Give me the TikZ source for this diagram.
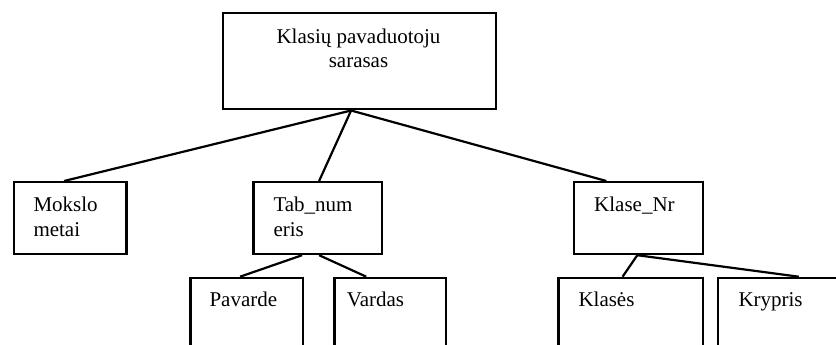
\documentclass[tikz,border=0pt]{standalone}
\usepackage{fontspec}
\setmainfont{Liberation Serif}
\begin{document}
\begin{tikzpicture}[x=1pt,y=-1pt,
  entity/.style={draw, line width=2.2pt, inner sep=0pt, anchor=north west},
  caption/.style={inner sep=0pt, anchor=base west, align=left,
    font=\fontsize{21}{24.5}\selectfont},
  link/.style={line width=2.2pt}]
  \useasboundingbox (0,0) rectangle (836,345);
  \clip (0,0) rectangle (836,345);

  % boxes
  \node[entity, minimum width=273pt, minimum height=96pt] (root) at (221.5,12.3) {};
  \node[entity, minimum width=112.6pt, minimum height=72pt] (mokslo) at (12.7,181) {};
  \node[entity, minimum width=128.4pt, minimum height=72pt] (tab) at (252.3,181) {};
  \node[entity, minimum width=129pt, minimum height=72pt] (klase) at (572.7,181) {};
  \node[entity, minimum width=112.4pt, minimum height=90pt] (pav) at (189.3,276.7) {};
  \node[entity, minimum width=111.7pt, minimum height=90pt] (var) at (333.3,276.7) {};
  \node[entity, minimum width=144.4pt, minimum height=90pt] (kls) at (557.3,276.7) {};
  \node[entity, minimum width=130pt, minimum height=90pt] (kry) at (716.7,276.7) {};

  % labels (base of a two-line label is its second line)
  \node[caption, anchor=base, align=center] (t-root) at (358.5,67.5) {Klasių pavaduotoju\\sarasas};
  \node[caption] (t-mokslo) at (33.3,236) {Mokslo\\metai};
  \node[caption] (t-tab) at (273.3,236) {Tab\_num\\eris};
  \node[caption] (t-klase) at (594,211.7) {Klase\_Nr};
  \node[caption] (t-pav) at (209.3,306.7) {Pavarde};
  \node[caption] (t-var) at (346.7,306.7) {Vardas};
  \node[caption] (t-kls) at (578.3,306.7) {Klasės};
  \node[caption] (t-kry) at (738.3,306.7) {Krypris};

  % connectors
  \coordinate (root-j) at ([xshift=-8pt]root.south);
  \draw[link] (root-j) -- ([xshift=-6pt]mokslo.north);
  \draw[link] (root-j) -- ([xshift=1.5pt]tab.north);
  \draw[link] (root-j) -- ([xshift=-32pt]klase.north);
  \draw[link] ([xshift=-15.5pt]tab.south) -- ([xshift=-6.5pt]pav.north);
  \draw[link] ([xshift=1.5pt]tab.south) -- ([xshift=-24pt]var.north);
  \coordinate (klase-j) at ([xshift=-1pt]klase.south);
  \draw[link] (klase-j) -- ([xshift=-8pt]kls.north);
  \draw[link] (klase-j) -- ([xshift=16pt]kry.north);
\end{tikzpicture}
\end{document}
